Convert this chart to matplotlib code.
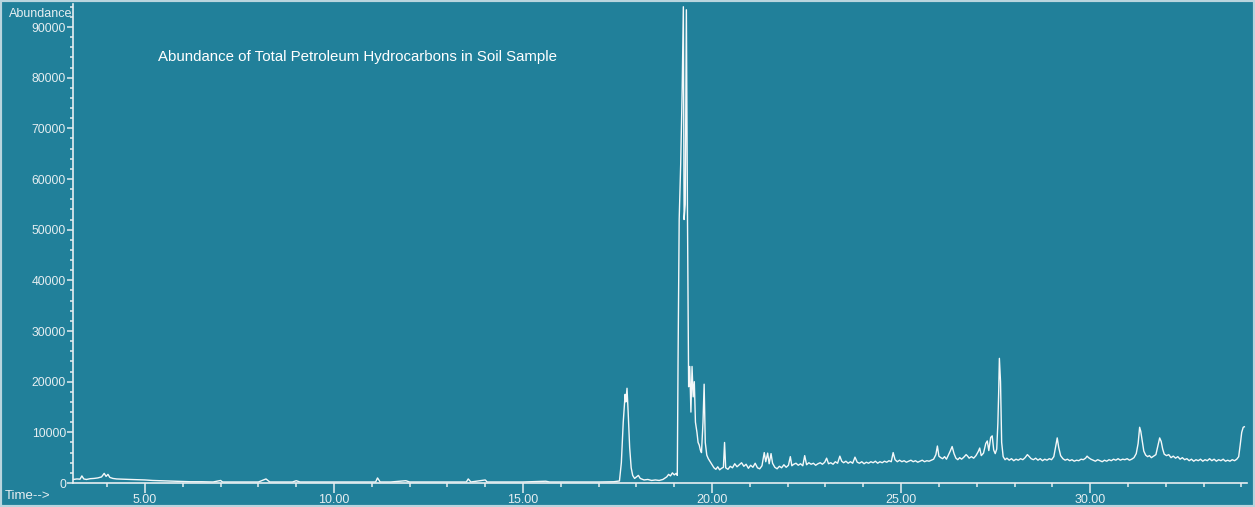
import matplotlib.pyplot as plt
from matplotlib.ticker import MultipleLocator
from matplotlib.patches import Rectangle

# retention time (min) and abundance
early_t = [3.10, 3.20, 3.28, 3.33, 3.38, 3.45, 3.55, 3.65, 3.75, 3.85, 3.92, 3.97, 4.02, 4.07,
           4.15, 4.25, 4.40, 4.60, 4.80, 5.00, 5.20, 5.40, 5.60, 5.80]
early_a = [700, 800, 750, 1400, 800, 700, 850, 900, 1000, 1200, 1900, 1300, 1700, 1100,
           900, 800, 750, 700, 650, 600, 500, 450, 400, 350]

flat_t = [6.00, 6.20, 6.50, 6.80, 7.00, 7.05, 7.50, 8.00, 8.20, 8.30, 8.90, 9.00, 9.10, 10.00,
          10.50, 11.10, 11.15, 11.22, 11.50, 11.90, 12.00, 12.50, 13.00, 13.50, 13.55, 13.62,
          14.00, 14.05, 14.50, 15.00, 15.60, 15.70, 16.50, 17.00, 17.40]
flat_a = [300, 250, 250, 200, 500, 200, 200, 200, 800, 200, 200, 450, 200, 200,
          200, 200, 1000, 200, 200, 450, 200, 200, 200, 200, 800, 200,
          600, 200, 200, 200, 350, 200, 200, 200, 250]

peak_t = [17.55, 17.60, 17.65, 17.70, 17.72, 17.75, 17.78, 17.82, 17.86, 17.90, 17.95, 18.00,
          18.05, 18.10, 18.20, 18.30, 18.40, 18.50, 18.60, 18.70, 18.80, 18.85, 18.90, 18.95,
          19.00, 19.05, 19.08, 19.10, 19.13, 19.17, 19.21, 19.24, 19.26, 19.29, 19.32, 19.35,
          19.38, 19.41, 19.44, 19.47, 19.50, 19.53, 19.56, 19.60, 19.63, 19.66, 19.69, 19.72,
          19.76, 19.79, 19.82, 19.86, 19.90, 19.95]
peak_a = [400, 4000, 12000, 17500, 16000, 18700, 14000, 7000, 3000, 1500, 900, 1200,
          1500, 900, 600, 700, 500, 600, 500, 700, 1200, 1700, 1400, 2000,
          1600, 1900, 1500, 24000, 52000, 63000, 78000, 94000, 52000, 55000, 93400, 52000,
          19000, 23000, 14000, 23000, 17000, 20000, 12000, 10000, 8000, 7500, 6500, 6000,
          12000, 19500, 8000, 5500, 4800, 4200]

late_t = [20.00, 20.05, 20.10, 20.15, 20.20, 20.25, 20.30, 20.33, 20.36, 20.42, 20.48, 20.54,
          20.60, 20.66, 20.72, 20.78, 20.84, 20.90, 20.96, 21.02, 21.08, 21.14, 21.20, 21.26,
          21.32, 21.38, 21.42, 21.47, 21.51, 21.56, 21.60, 21.66, 21.72, 21.78, 21.84, 21.90,
          21.96, 22.02, 22.07, 22.11, 22.16, 22.22, 22.28, 22.34, 22.40, 22.45, 22.50, 22.56,
          22.62, 22.68, 22.74, 22.80, 22.86, 22.92, 22.98, 23.03, 23.08, 23.14, 23.20, 23.26,
          23.32, 23.38, 23.43, 23.48, 23.54, 23.60, 23.66, 23.72, 23.78, 23.84, 23.90, 23.96,
          24.02, 24.08, 24.14, 24.20, 24.26, 24.32, 24.38, 24.44, 24.50, 24.56, 24.62, 24.68,
          24.74, 24.79, 24.84, 24.90, 24.96, 25.02, 25.08, 25.14, 25.20, 25.26, 25.32, 25.38,
          25.44, 25.50, 25.56, 25.62, 25.68, 25.74, 25.80, 25.86, 25.92, 25.96, 26.00, 26.05,
          26.10, 26.15, 26.20, 26.25, 26.30, 26.35, 26.40, 26.45, 26.50, 26.55, 26.60, 26.66,
          26.72, 26.76, 26.80, 26.86, 26.92, 26.98, 27.04, 27.08, 27.12, 27.18, 27.24, 27.28,
          27.32, 27.37, 27.41, 27.45, 27.49, 27.53, 27.56, 27.58, 27.60, 27.63, 27.66, 27.70,
          27.75, 27.80, 27.86, 27.92, 27.98, 28.04, 28.10, 28.16, 28.22, 28.28, 28.34, 28.38,
          28.44, 28.50, 28.56, 28.62, 28.68, 28.74, 28.80, 28.86, 28.92, 28.98, 29.04, 29.09,
          29.13, 29.17, 29.22, 29.28, 29.34, 29.40, 29.46, 29.52, 29.58, 29.64, 29.70, 29.76,
          29.82, 29.88, 29.92, 29.96, 30.02, 30.08, 30.14, 30.20, 30.26, 30.32, 30.38, 30.44,
          30.50, 30.56, 30.62, 30.68, 30.74, 30.80, 30.86, 30.92, 30.98, 31.04, 31.10, 31.16,
          31.22, 31.27, 31.31, 31.34, 31.38, 31.42, 31.47, 31.52, 31.57, 31.62, 31.68, 31.74,
          31.79, 31.84, 31.88, 31.92, 31.96, 32.02, 32.08, 32.14, 32.20, 32.26, 32.32, 32.38,
          32.44, 32.50, 32.56, 32.62, 32.68, 32.74, 32.80, 32.86, 32.92, 32.98, 33.04, 33.10,
          33.16, 33.22, 33.28, 33.34, 33.40, 33.46, 33.52, 33.58, 33.64, 33.70, 33.76, 33.82,
          33.88, 33.93, 33.97, 34.01, 34.05, 34.08]
late_a = [3600, 3000, 2700, 3200, 2600, 2900, 3100, 8000, 3000, 2700, 3300, 3000,
          3800, 3200, 3600, 4000, 3300, 3700, 2900, 3500, 3100, 3900, 3000, 2800,
          3400, 6000, 4200, 5900, 3800, 5800, 3900, 3100, 2800, 3300, 3000, 3600,
          3100, 3500, 5200, 3400, 3700, 3900, 3500, 3800, 3400, 5400, 3600, 4000,
          3700, 3900, 3500, 3800, 4000, 3700, 4100, 4900, 3800, 4000, 3700, 4200,
          3900, 5300, 4300, 4000, 4300, 3900, 4200, 3900, 5100, 4100, 3900, 4200,
          3800, 4100, 3900, 4200, 4000, 4300, 3900, 4200, 4000, 4300, 4100, 4400,
          4200, 6000, 4600, 4200, 4500, 4200, 4400, 4100, 4300, 4500, 4200, 4400,
          4100, 4300, 4500, 4200, 4400, 4300, 4500, 4700, 5600, 7300, 5300, 5000,
          4800, 5200, 4700, 5500, 6300, 7200, 5800, 4900, 4600, 5000, 4700, 5100,
          5600, 5300, 4900, 5200, 4900, 5400, 6200, 6900, 5400, 5900, 7800, 8300,
          6400, 9000, 9300, 6500, 5800, 6700, 11800, 17500, 24600, 20000, 8000, 5200,
          4600, 4900, 4500, 4800, 4400, 4700, 4500, 4800, 4600, 5000, 5600, 5300,
          4800, 4600, 4900, 4500, 4800, 4400, 4700, 4500, 4800, 4600, 5200, 7200,
          8900, 7000, 5400, 4800, 4500, 4700, 4400, 4600, 4300, 4500, 4400, 4700,
          4600, 4900, 5300, 5000, 4700, 4500, 4300, 4600, 4400, 4200, 4500, 4300,
          4600, 4400, 4700, 4500, 4800, 4500, 4700, 4600, 4800, 4500, 4700, 5000,
          5800, 7800, 11000, 10200, 8200, 6300, 5500, 5200, 5400, 5000, 5300, 5600,
          7300, 8900, 8200, 6700, 5700, 5400, 5600, 5000, 5300, 4900, 5200, 4700,
          5000, 4600, 4800, 4400, 4700, 4300, 4600, 4400, 4700, 4300, 4600, 4400,
          4800, 4400, 4700, 4300, 4600, 4400, 4700, 4300, 4500, 4300, 4600, 4400,
          4700, 5200, 7500, 10000, 11000, 11100]

time = early_t + flat_t + peak_t + late_t
abundance = early_a + flat_a + peak_a + late_a

bg = '#21809a'
fg = '#e6eef1'
plt.rcParams['font.family'] = ['Liberation Sans', 'DejaVu Sans']

fig = plt.figure(figsize=(12.55, 5.07), dpi=100, facecolor=bg)
ax = fig.add_axes([73 / 1255, 24 / 507, 1174 / 1255, 479 / 507])
ax.set_facecolor(bg)
ax.plot(time, abundance, color='#f4f8f9', lw=1.0)

ax.set_xlim(3.095, 34.15)
ax.set_ylim(0, 94540)

for side in ['top', 'right']:
    ax.spines[side].set_visible(False)
for side in ['left', 'bottom']:
    ax.spines[side].set_color(fg)
    ax.spines[side].set_linewidth(1.2)

ax.xaxis.set_major_locator(MultipleLocator(5))
ax.xaxis.set_minor_locator(MultipleLocator(1))
ax.yaxis.set_major_locator(MultipleLocator(10000))
ax.yaxis.set_minor_locator(MultipleLocator(2000))
ax.xaxis.set_major_formatter(lambda v, p: f'{v:.2f}')
ax.yaxis.set_major_formatter(lambda v, p: f'{v:.0f}')

ax.tick_params(axis='x', which='major', length=7, width=1.1, color=fg, labelcolor=fg,
               labelsize=9, pad=1)
ax.tick_params(axis='x', which='minor', length=3, width=1.1, color=fg)
ax.tick_params(axis='y', which='major', length=4, width=1.1, color=fg, labelcolor=fg,
               labelsize=8.8, pad=1)
ax.tick_params(axis='y', which='minor', length=2.5, width=1.1, color=fg)

fig.text(158 / 1255, 1 - 57 / 507, 'Abundance of Total Petroleum Hydrocarbons in Soil Sample',
         color='white', fontsize=10.8, va='center', ha='left')
fig.text(72 / 1255, 1 - 14 / 507, 'Abundance', color=fg, fontsize=9, va='center', ha='right')
fig.text(5 / 1255, 1 - 496 / 507, 'Time-->', color=fg, fontsize=9.5, va='center', ha='left')

fig.patches.append(Rectangle((0, 0), 1, 1, transform=fig.transFigure, fill=False,
                             edgecolor='#b9d5de', lw=3))

fig.savefig('out.png', dpi=100, facecolor=bg)
